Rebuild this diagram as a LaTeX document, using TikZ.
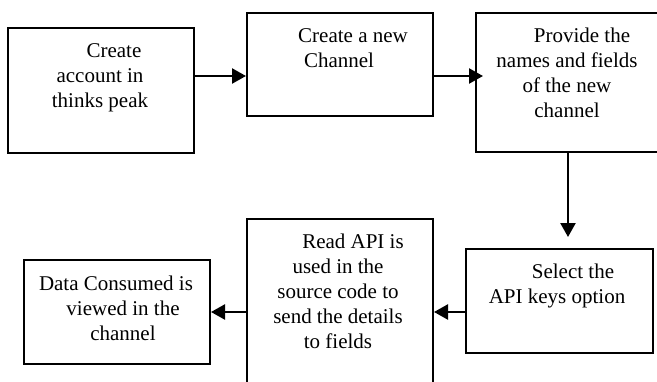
\documentclass[tikz,border=0pt]{standalone}
\usepackage{fontspec}
\setmainfont{Liberation Serif}
\usetikzlibrary{arrows.meta}
\begin{document}
\begin{tikzpicture}[x=1pt,y=-1pt,
  box/.style={draw, line width=2pt, rectangle, inner sep=0pt, anchor=north west},
  txt/.style={align=center, font=\fontsize{21}{25}\selectfont, inner sep=0pt, anchor=base},
  flow/.style={line width=2.4pt, -{Triangle[length=14pt,width=15pt]}}]
\useasboundingbox (0,0) rectangle (657,381);
\clip (0,0) rectangle (657,381);
\node[box, minimum width=186pt, minimum height=125pt] (b1) at (7,27) {};
\node[box, minimum width=186pt, minimum height=103pt] (b2) at (246,12) {};
\node[box, minimum width=190pt, minimum height=139pt] (b3) at (475,12) {};
\node[box, minimum width=187pt, minimum height=104pt] (b4) at (465,248) {};
\node[box, minimum width=186pt, minimum height=180pt] (b5) at (246,218) {};
\node[box, minimum width=186pt, minimum height=104pt] (b6) at (23,259) {};
\node[txt] (t1) at (100,107) {\hspace*{28pt}Create\\account in\\thinks peak};
\node[txt] (t2) at (339,67) {\hspace*{28pt}Create a new\\Channel};
\node[txt] (t3) at (567,117) {\hspace*{30pt}Provide the\\names and fields\\of the new\\channel};
\node[txt] (t4) at (557,303) {\hspace*{32pt}Select the\\API keys option};
\node[txt] (t5) at (338,348) {\hspace*{30pt}Read API is\\used in the\\source code to\\send the details\\to fields};
\node[txt] (t6) at (116,340) {Data Consumed is\\\hspace*{14pt}viewed in the\\\hspace*{14pt}channel};
\draw[flow] (b1.east |- 0,76) -- (b2.west |- 0,76);
\draw[flow, shorten >=-8pt] (b2.east |- 0,76) -- (b3.west |- 0,76);
\draw[flow, shorten >=11pt] (b3.south -| 568,0) -- (b4.north -| 568,0);
\draw[flow] (b4.west |- 0,312) -- (b5.east |- 0,312);
\draw[flow] (b5.west |- 0,312) -- (b6.east |- 0,312);
\end{tikzpicture}
\end{document}
